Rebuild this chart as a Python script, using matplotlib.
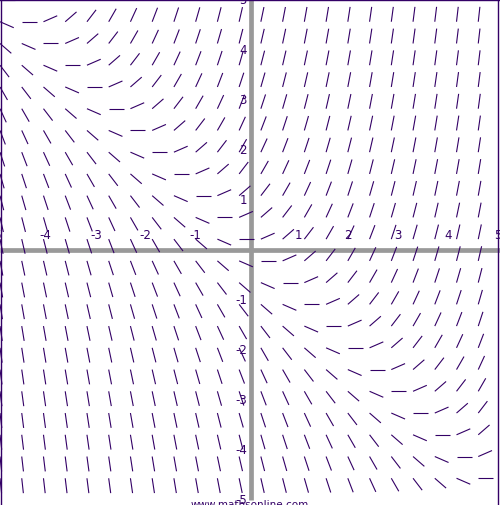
import numpy as np
import matplotlib
matplotlib.use("Agg")
import matplotlib.pyplot as plt
from matplotlib.collections import LineCollection

# Slope field for dy/dx = x + y, sampled on a 23 x 23 grid over [-5, 5]
n_cols = 23
x_min, x_max = -5.0, 5.0
y_min, y_max = -5.0, 5.0
seg_len = 0.3
x_ticks = [-5, -4, -3, -2, -1, 1, 2, 3, 4, 5]
y_ticks = [-5, -4, -3, -2, -1, 1, 2, 3, 4, 5]
watermark = "www.mathsonline.com"

ink = '#330066'
axis_grey = '#999999'


def slope(x, y):
    return x + y


step = (x_max - x_min) / n_cols
xs = x_min + step * np.arange(n_cols)
ys = y_max - step * np.arange(n_cols)

segments = []
for yv in ys:
    for xv in xs:
        m = slope(xv, yv)
        d = np.hypot(1.0, m)
        segments.append([(xv, yv), (xv + seg_len / d, yv + seg_len * m / d)])

fig = plt.figure(figsize=(5.0, 5.05), dpi=100)
ax = fig.add_axes([0, 0, 1, 1])
ax.set_xlim(x_min, x_max)
ax.set_ylim(y_min - 0.1, y_max)
ax.axis('off')

# grey coordinate axes
ax.plot([0.01, 0.01], [y_min, y_max], color=axis_grey, lw=3.4, solid_capstyle='butt', zorder=1)
ax.plot([x_min, x_max], [0, 0], color=axis_grey, lw=3.4, solid_capstyle='butt', zorder=1)

# frame (left, top, right)
ax.plot([-4.985, -4.985], [y_min - 0.1, y_max], color=ink, lw=1.0, zorder=4)
ax.plot([x_min, x_max], [4.992, 4.992], color=ink, lw=1.0, zorder=4)
ax.plot([4.965, 4.965], [y_min - 0.1, y_max], color=ink, lw=1.0, zorder=4)

lc = LineCollection(segments, colors=ink, linewidths=0.8, zorder=3)
ax.add_collection(lc)

for t in x_ticks:
    ax.text(t + 0.035, 0.16, str(t), ha='right', va='bottom', fontsize=8.5,
            color=ink, zorder=5, clip_on=True)
for t in y_ticks:
    ax.text(-0.06, t, str(t), ha='right', va='center', fontsize=8.5,
            color=ink, zorder=5, clip_on=True)

# watermark, mostly below the bottom edge
ax.text(0.0, -5.17, watermark, ha='center', va='baseline', fontsize=7.5,
        color=ink, zorder=5, clip_on=True)

fig.savefig('out.png', dpi=100)
